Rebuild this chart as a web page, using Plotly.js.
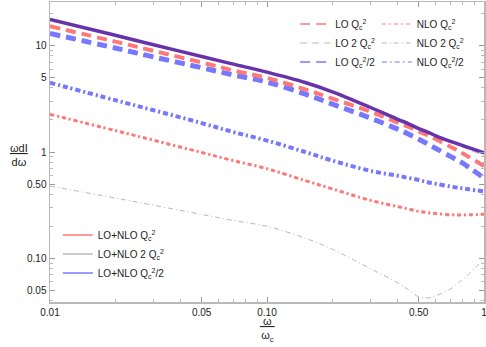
<!DOCTYPE html>
<html>
<head>
<meta charset="utf-8">
<script src="https://cdn.plot.ly/plotly-3.0.1.min.js"></script>
<style>html,body{margin:0;padding:0;background:#fff;}#chart{width:486px;height:347px;}</style>
</head>
<body>
<div id="chart"></div>
<script>
// omega / omega_c sample points
const omega = [0.01, 0.02, 0.03, 0.05, 0.07, 0.1, 0.15, 0.2, 0.3, 0.4, 0.45, 0.5, 0.55, 0.6, 0.7, 0.77, 0.85, 1.0];

// LO curves
const loQ      = [15.2, 10.9, 8.93, 6.95, 5.84, 4.97, 3.88, 3.18, 2.39, 1.89, 1.72, 1.56, 1.44, 1.32, 1.12, 1.01, 0.90, 0.74];
const lo2Q     = [17.6, 12.5, 10.2, 7.9, 6.7, 5.63, 4.50, 3.68, 2.62, 2.03, 1.84, 1.66, 1.53, 1.41, 1.23, 1.14, 1.05, 0.92];
const loHalfQ  = [13.0, 9.5, 7.83, 6.2, 5.3, 4.54, 3.50, 2.82, 2.08, 1.64, 1.47, 1.32, 1.19, 1.08, 0.91, 0.82, 0.72, 0.57];

// NLO curves
const nloQ     = [2.26, 1.59, 1.29, 0.99, 0.83, 0.696, 0.539, 0.45, 0.351, 0.307, 0.291, 0.277, 0.269, 0.264, 0.257, 0.256, 0.257, 0.260];
const nlo2Q    = [0.479, 0.369, 0.316, 0.259, 0.227, 0.200, 0.155, 0.122, 0.080, 0.059, 0.0505, 0.0435, 0.0425, 0.0445, 0.0515, 0.060, 0.071, 0.099];
const nloHalfQ = [4.48, 3.07, 2.47, 1.87, 1.54, 1.28, 1.00, 0.83, 0.665, 0.598, 0.57, 0.546, 0.52, 0.502, 0.474, 0.46, 0.446, 0.426];

// LO+NLO (all three scales coincide)
const loNlo    = [17.6, 12.5, 10.2, 7.9, 6.7, 5.63, 4.50, 3.68, 2.62, 2.03, 1.84, 1.66, 1.54, 1.42, 1.26, 1.18, 1.10, 0.98];

// names and ticks
const names = {
  loQ: 'LO Q<sub>c</sub><sup>2</sup>',
  lo2Q: 'LO 2 Q<sub>c</sub><sup>2</sup>',
  loHalfQ: 'LO Q<sub>c</sub><sup>2</sup>/2',
  nloQ: 'NLO Q<sub>c</sub><sup>2</sup>',
  nlo2Q: 'NLO 2 Q<sub>c</sub><sup>2</sup>',
  nloHalfQ: 'NLO Q<sub>c</sub><sup>2</sup>/2',
  lnQ: 'LO+NLO Q<sub>c</sub><sup>2</sup>',
  ln2Q: 'LO+NLO 2 Q<sub>c</sub><sup>2</sup>',
  lnHalfQ: 'LO+NLO Q<sub>c</sub><sup>2</sup>/2'
};
const xTickVals = [0.01, 0.05, 0.1, 0.5, 1];
const xTickText = ['0.01', '0.05', '0.10', '0.50', '1'];
const xMinor = [0.02,0.03,0.04,0.06,0.07,0.08,0.09,0.2,0.3,0.4,0.6,0.7,0.8,0.9];
const yTickVals = [0.05, 0.1, 0.5, 1, 5, 10];
const yTickText = ['0.05', '0.10', '0.50', '1', '5', '10'];
const yMinor = [0.04,0.06,0.07,0.08,0.09,0.2,0.3,0.4,0.6,0.7,0.8,0.9,2,3,4,6,7,8,9,20];

const RED = 'rgb(255,120,120)';
const BLUE = 'rgb(120,120,255)';
const GRAY = 'rgb(185,185,185)';
const PURPLE = 'rgb(102,51,170)';

const DASH = '10px,6px';
const DOTDASH_R = '4px,3px,2px,3px';
const DOTDASH_B = '5px,3px,2px,3px';
const DOTDASH_G = '5px,3px,1px,3px';

function tr(y, opts) {
  return Object.assign({x: omega, y: y, mode: 'lines', hoverinfo: 'skip'}, opts);
}

const traces = [
  // legend proxies (thin, same path and dash, hidden under the thick ones)
  tr(loQ,      {name: names.loQ, legend: 'legend', legendrank: 1, line: {color: RED, width: 1.5, dash: DASH, shape: 'spline'}}),
  tr(loHalfQ,  {name: names.loHalfQ, legend: 'legend', legendrank: 3, line: {color: BLUE, width: 1.5, dash: DASH, shape: 'spline'}}),
  tr(nloQ,     {name: names.nloQ, legend: 'legend3', legendrank: 1, line: {color: RED, width: 1.2, dash: DOTDASH_R, shape: 'spline'}}),
  tr(nloHalfQ, {name: names.nloHalfQ, legend: 'legend3', legendrank: 3, line: {color: BLUE, width: 1.2, dash: DOTDASH_B, shape: 'spline'}}),
  // drawn curves
  tr(nlo2Q,    {name: names.nlo2Q, legend: 'legend3', legendrank: 2, line: {color: GRAY, width: 1, dash: DOTDASH_G, shape: 'spline'}}),
  tr(nloQ,     {showlegend: false, line: {color: RED, width: 3, dash: DOTDASH_R, shape: 'spline'}}),
  tr(nloHalfQ, {showlegend: false, line: {color: BLUE, width: 4, dash: DOTDASH_B, shape: 'spline'}}),
  tr(loHalfQ,  {showlegend: false, line: {color: BLUE, width: 5, dash: DASH, shape: 'spline'}}),
  tr(loQ,      {showlegend: false, line: {color: RED, width: 4, dash: DASH, shape: 'spline'}}),
  tr(lo2Q,     {name: names.lo2Q, legend: 'legend', legendrank: 2, line: {color: GRAY, width: 1, dash: '7px,5px', shape: 'spline'}}),
  tr(loNlo,    {name: names.lnQ, legend: 'legend2', legendrank: 1, line: {color: RED, width: 1.5, shape: 'spline'}}),
  tr(loNlo,    {name: names.ln2Q, legend: 'legend2', legendrank: 2, line: {color: GRAY, width: 1.5, shape: 'spline'}}),
  tr(loNlo,    {name: names.lnHalfQ, legend: 'legend2', legendrank: 3, line: {color: BLUE, width: 1.5, shape: 'spline'}}),
  tr(loNlo,    {showlegend: false, line: {color: PURPLE, width: 3.5, shape: 'spline'}})
];

const FONT = {family: 'Liberation Sans, Arial, sans-serif', size: 10, color: '#222'};
const axisCommon = {
  type: 'log', showgrid: false, zeroline: false, showline: true, linecolor: '#b8b8b8', linewidth: 1.5,
  mirror: 'allticks', ticks: 'inside', ticklen: 5, tickcolor: '#999', tickwidth: 1,
  tickmode: 'array', tickfont: FONT, ticklabeloverflow: 'allow',
  minor: {tickmode: 'array', ticks: 'inside', ticklen: 3, tickcolor: '#bbb', showgrid: false}
};
const legendCommon = {xanchor: 'left', yanchor: 'top', bgcolor: 'rgba(0,0,0,0)', font: FONT, traceorder: 'normal', tracegroupgap: 0};

const layout = {
  width: 486, height: 347,
  margin: {l: 50, r: 2, t: 2, b: 45},
  paper_bgcolor: '#fff', plot_bgcolor: '#fff',
  font: FONT,
  showlegend: true,
  xaxis: Object.assign({}, axisCommon, {
    range: [Math.log10(0.01), Math.log10(1)],
    tickvals: xTickVals, ticktext: xTickText,
    minor: Object.assign({}, axisCommon.minor, {tickvals: xMinor})
  }),
  yaxis: Object.assign({}, axisCommon, {
    range: [-1.41, 1.41],
    tickvals: yTickVals, ticktext: yTickText,
    minor: Object.assign({}, axisCommon.minor, {tickvals: yMinor})
  }),
  legend: Object.assign({}, legendCommon, {x: 0.565, y: 0.975}),
  legend3: Object.assign({}, legendCommon, {x: 0.753, y: 0.975}),
  legend2: Object.assign({}, legendCommon, {x: 0.018, y: 0.272}),
  annotations: [
    {xref: 'paper', yref: 'paper', x: -0.072, y: 0.49, xanchor: 'center', yanchor: 'middle',
     text: '<u>ωdI</u><br>dω', showarrow: false, font: {family: FONT.family, size: 11, color: '#222'}},
    {xref: 'paper', yref: 'paper', x: 0.5, y: -0.09, xanchor: 'center', yanchor: 'middle',
     text: '<u> ω </u><br>ω<sub>c</sub>', showarrow: false, font: {family: FONT.family, size: 11, color: '#222'}}
  ]
};

Plotly.newPlot('chart', traces, layout, {staticPlot: true, displayModeBar: false});
</script>
</body>
</html>
